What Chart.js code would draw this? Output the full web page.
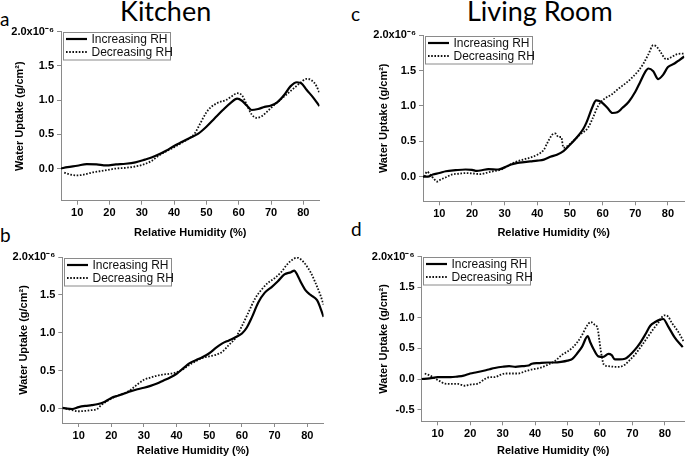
<!DOCTYPE html>
<html><head><meta charset="utf-8">
<script src="https://cdn.jsdelivr.net/npm/chart.js@4.4.1/dist/chart.umd.min.js"></script>
<style>
html,body{margin:0;padding:0;background:#fff;}
#wrap{position:relative;width:685px;height:458px;overflow:hidden;background:#fff;}
canvas{position:absolute;}
.t{position:absolute;font-family:Lato,'Open Sans',sans-serif;color:#000;white-space:nowrap;line-height:1;}
</style></head><body>
<div id="wrap">
  <div class="t" style="left:120px;top:-3px;font-size:27px">Kitchen</div>
  <div class="t" style="left:467px;top:-3px;font-size:27px">Living Room</div>
  <div class="t" style="left:0px;top:9px;font-size:19px">a</div>
  <div class="t" style="left:0px;top:225px;font-size:19px">b</div>
  <div class="t" style="left:351px;top:4px;font-size:19px">c</div>
  <div class="t" style="left:351px;top:219px;font-size:19px">d</div>
  <canvas id="ca"></canvas>
  <canvas id="cb"></canvas>
  <canvas id="cc"></canvas>
  <canvas id="cd"></canvas>
</div>
<script>
// ---------- DATA (water uptake in units of 1e-6 g/cm^2) ----------
const seriesLabels = ['Increasing RH', 'Decreasing RH'];
const xTickValues = [10, 20, 30, 40, 50, 60, 70, 80];
const yTickValuesABC = [0, 0.5, 1.0, 1.5, 2.0];
const yTickValuesD = [-0.5, 0, 0.5, 1.0, 1.5, 2.0];

// Panel a: Kitchen (top)
const aIncRH  = [5, 7, 10, 13, 16, 19, 22, 25, 28, 31, 33, 35, 37.5, 40, 42.5, 45, 47.5, 50, 52.5, 55, 57.5, 59.5, 61, 62.5, 64, 66, 68, 70, 72, 74, 76, 78, 79.5, 81, 83, 85];
const aIncVal = [0.0, 0.02, 0.04, 0.065, 0.06, 0.045, 0.06, 0.07, 0.09, 0.13, 0.16, 0.2, 0.26, 0.33, 0.39, 0.45, 0.51, 0.61, 0.73, 0.85, 0.96, 1.02, 0.99, 0.92, 0.855, 0.87, 0.9, 0.92, 0.97, 1.07, 1.2, 1.26, 1.24, 1.15, 1.04, 0.91];
const aDecRH  = [6, 8, 10, 12, 14.5, 17, 19.5, 22, 25, 28, 30, 33, 35, 37.5, 40, 42.5, 45, 46.5, 48, 50, 51.5, 53.5, 56, 58, 59.5, 61, 62.5, 64, 65.5, 67, 69, 71, 73, 75, 77, 79, 81, 82.5, 84, 85];
const aDecVal = [-0.06, -0.09, -0.1, -0.09, -0.06, -0.04, -0.02, 0.0, 0.01, 0.03, 0.05, 0.11, 0.18, 0.25, 0.31, 0.38, 0.45, 0.52, 0.65, 0.82, 0.9, 0.96, 1.0, 1.06, 1.1, 1.07, 0.93, 0.79, 0.74, 0.76, 0.84, 0.93, 1.01, 1.09, 1.17, 1.25, 1.31, 1.29, 1.21, 1.1];

// Panel b: Kitchen (bottom)
const bIncRH  = [5, 6.5, 8, 10, 12, 14, 16, 17.5, 20, 22, 24, 26, 28, 30, 32, 34, 36, 38, 40, 42, 44, 46, 48, 50, 52, 54, 56, 58, 60, 61.5, 63, 65, 67, 69, 71, 73, 75, 76, 77, 78, 79.5, 81, 83, 84, 85];
const bIncVal = [0.01, 0.0, -0.005, 0.02, 0.035, 0.045, 0.06, 0.08, 0.14, 0.17, 0.2, 0.23, 0.255, 0.275, 0.3, 0.33, 0.37, 0.41, 0.46, 0.53, 0.6, 0.64, 0.68, 0.73, 0.8, 0.86, 0.9, 0.94, 0.99, 1.07, 1.2, 1.4, 1.53, 1.6, 1.68, 1.77, 1.8, 1.82, 1.76, 1.67, 1.56, 1.5, 1.43, 1.33, 1.21];
const bDecRH  = [6, 8, 10, 12, 14, 15.5, 17, 20, 22, 24, 26, 28, 30, 32, 34, 36, 38, 40, 42, 44, 46, 48, 50, 52, 54, 56, 58, 60, 62, 64, 66, 68, 70, 72, 74, 76, 77, 78, 79.5, 81, 82.5, 84, 85];
const bDecVal = [0.0, -0.02, -0.035, -0.03, -0.02, -0.01, 0.05, 0.13, 0.17, 0.2, 0.25, 0.32, 0.38, 0.41, 0.435, 0.45, 0.46, 0.48, 0.52, 0.58, 0.63, 0.67, 0.69, 0.71, 0.75, 0.84, 0.93, 1.09, 1.27, 1.45, 1.57, 1.66, 1.72, 1.8, 1.91, 1.98, 1.99, 1.97, 1.9, 1.8, 1.66, 1.5, 1.37];

// Panel c: Living Room (top)
const cIncRH  = [5, 6.5, 8, 10, 12, 15, 18, 20, 21.5, 23, 25, 28, 30, 32, 34, 36, 38, 40, 42, 44, 46, 48, 50, 52, 54, 55, 56, 57, 58, 59, 60, 61.5, 63, 64.5, 66, 68, 70, 71.5, 73, 74, 75.5, 77, 78.5, 80, 82, 83.5, 85];
const cIncVal = [0.0, 0.0, 0.03, 0.05, 0.075, 0.09, 0.1, 0.095, 0.08, 0.09, 0.105, 0.1, 0.13, 0.17, 0.195, 0.205, 0.215, 0.225, 0.24, 0.28, 0.31, 0.36, 0.45, 0.55, 0.67, 0.76, 0.88, 1.0, 1.08, 1.07, 1.04, 0.97, 0.9, 0.91, 0.97, 1.06, 1.2, 1.34, 1.48, 1.53, 1.49, 1.38, 1.44, 1.55, 1.6, 1.65, 1.7];
const cDecRH  = [5.5, 6.2, 7.2, 8.5, 9.3, 10.5, 12, 14, 16, 18, 20, 22.5, 25, 27, 29, 30.5, 33, 36, 38, 40, 42, 43, 44.5, 45.5, 46.5, 47.3, 48, 50, 52, 53.5, 55.5, 57, 58.6, 60.5, 62.7, 65, 67.3, 69, 71, 72.5, 74, 75.5, 76.5, 77.5, 79.5, 81, 82.6, 84, 85];
const cDecVal = [0.0, 0.07, 0.03, -0.04, -0.07, -0.04, -0.01, 0.03, 0.04, 0.05, 0.045, 0.035, 0.06, 0.08, 0.1, 0.14, 0.2, 0.245, 0.27, 0.31, 0.38, 0.47, 0.59, 0.61, 0.56, 0.56, 0.41, 0.46, 0.55, 0.61, 0.69, 0.83, 1.0, 1.1, 1.16, 1.25, 1.33, 1.4, 1.5, 1.6, 1.73, 1.86, 1.84, 1.78, 1.66, 1.69, 1.73, 1.74, 1.74];

// Panel d: Living Room (bottom)
const dIncRH  = [5, 7.5, 10, 12, 14, 16, 18, 20, 22, 24.5, 26, 27.6, 30, 32, 34, 36, 38, 39, 41, 44, 46, 48, 50, 51.5, 53, 54.5, 56.2, 57, 58, 59.5, 61, 62.6, 63.6, 64.6, 66, 67.7, 69, 70.8, 72.5, 74, 75.5, 77, 78.5, 79.5, 81, 83, 85.5];
const dIncVal = [0.0, 0.01, 0.03, 0.03, 0.03, 0.04, 0.055, 0.09, 0.11, 0.14, 0.16, 0.18, 0.2, 0.21, 0.2, 0.21, 0.22, 0.25, 0.26, 0.27, 0.27, 0.28, 0.3, 0.33, 0.42, 0.53, 0.7, 0.6, 0.49, 0.37, 0.36, 0.41, 0.39, 0.32, 0.32, 0.33, 0.38, 0.48, 0.6, 0.73, 0.87, 0.93, 0.97, 0.98, 0.86, 0.68, 0.52];
const dDecRH  = [6, 7.5, 9, 10.5, 12.2, 14, 16.3, 18.3, 20, 22.4, 24.5, 26, 27.6, 29, 30.7, 33, 34.8, 36.9, 38.5, 40, 42, 44, 46, 48.4, 50, 51.5, 53, 54.6, 56, 57.2, 58.3, 59.2, 60.2, 61.2, 62.5, 64.6, 66, 67.7, 69, 70.8, 72.5, 74.9, 76.5, 78, 79.8, 81, 82.1, 84, 85.7];
const dDecVal = [0.09, 0.06, 0.015, -0.03, -0.075, -0.08, -0.08, -0.11, -0.09, -0.075, 0.0, 0.03, 0.03, 0.06, 0.09, 0.09, 0.09, 0.125, 0.15, 0.165, 0.19, 0.235, 0.29, 0.4, 0.45, 0.51, 0.6, 0.73, 0.87, 0.93, 0.89, 0.84, 0.48, 0.235, 0.21, 0.2, 0.2, 0.235, 0.3, 0.4, 0.52, 0.7, 0.82, 0.92, 1.04, 1.02, 0.92, 0.78, 0.62];

// ---------- RENDERING ----------
const AXIS_COLOR = '#8a8a8a';
const TICK_FONT = {family: '"Liberation Sans", Arial, sans-serif', size: 11, weight: 'bold'};

const boxLegend = {
  id: 'boxLegend',
  afterDraw(chart, args, opts) {
    const {ctx, chartArea: a} = chart;
    const x = Math.round(a.left + opts.dx) + 0.5, y = Math.round(a.top + opts.dy) + 0.5;
    const w = opts.w, h = opts.h;
    ctx.save();
    ctx.fillStyle = '#fff';
    ctx.fillRect(x, y, w, h);
    ctx.strokeStyle = AXIS_COLOR; ctx.lineWidth = 1; ctx.setLineDash([]);
    ctx.strokeRect(x, y, w, h);
    ctx.font = '12px "Liberation Sans", Arial, sans-serif';
    ctx.textBaseline = 'middle';
    chart.data.datasets.forEach((ds, i) => {
      const ly = y + 6.5 + i * 13;
      ctx.beginPath();
      ctx.setLineDash(ds.borderDash || []);
      ctx.lineWidth = ds.borderWidth;
      ctx.strokeStyle = ds.borderColor;
      ctx.moveTo(x + 2.5, ly); ctx.lineTo(x + 23.5, ly); ctx.stroke();
      ctx.setLineDash([]);
      ctx.fillStyle = '#111';
      ctx.fillText(ds.label, x + 28, ly + 0.5);
    });
    ctx.restore();
  }
};

function pts(xs, ys) { return xs.map((v, i) => ({x: v, y: ys[i]})); }

function makePanel(id, p) {
  const cv = document.getElementById(id);
  cv.width = p.w; cv.height = p.h;
  cv.style.left = p.left + 'px'; cv.style.top = p.top + 'px';
  cv.style.width = p.w + 'px'; cv.style.height = p.h + 'px';
  new Chart(cv, {
    type: 'line',
    data: {
      datasets: [
        {label: seriesLabels[0], data: pts(p.incRH, p.incVal), borderColor: '#000', borderWidth: 2.2, borderDash: [], cubicInterpolationMode: 'monotone'},
        {label: seriesLabels[1], data: pts(p.decRH, p.decVal), borderColor: '#111', borderWidth: 1.8, borderDash: [1.6, 1.6], cubicInterpolationMode: 'monotone'}
      ]
    },
    options: {
      responsive: false, animation: false, devicePixelRatio: 1,
      layout: {padding: {top: p.pt, right: p.pr, left: 0, bottom: 0}},
      elements: {point: {radius: 0, hoverRadius: 0}},
      plugins: {legend: {display: false}, tooltip: {enabled: false},
        boxLegend: {dx: 1.5, dy: 0.5, w: 107, h: 27.5}},
      scales: {
        x: {
          type: 'linear', min: 5, max: p.xmax,
          afterBuildTicks: s => { s.ticks = xTickValues.map(v => ({value: v})); },
          afterFit: s => { s.height = p.xh; },
          border: {display: true, color: AXIS_COLOR, width: 1},
          grid: {display: true, drawOnChartArea: false, drawTicks: true, tickLength: 4, color: AXIS_COLOR},
          ticks: {color: '#000', font: TICK_FONT, padding: 2, maxRotation: 0, autoSkip: false},
          title: {display: true, text: 'Relative Humidity (%)', color: '#000', font: TICK_FONT, padding: {top: 0, bottom: p.xtb}}
        },
        y: {
          type: 'linear', min: p.ymin, max: 2.0,
          afterBuildTicks: s => { s.ticks = p.yTicks.map(v => ({value: v})); },
          afterFit: s => { s.width = p.yw; },
          border: {display: true, color: AXIS_COLOR, width: 1},
          grid: {display: true, drawOnChartArea: false, drawTicks: true, tickLength: 4, color: AXIS_COLOR},
          ticks: {color: '#000', font: TICK_FONT, padding: 3, autoSkip: false,
            callback: v => (v === 2 ? '2.0x10\u207B\u2076' : v.toFixed(1))},
          title: {display: true, text: 'Water Uptake (g/cm\u00B2)', color: '#000', font: TICK_FONT, padding: {top: p.ytt, bottom: 0}}
        }
      }
    },
    plugins: [boxLegend]
  });
}

makePanel('ca', {left: 0, top: 20, w: 330, h: 225, pt: 11.6, pr: 10.5, yw: 61, xh: 44.3, xtb: 5.9, ytt: 13.4, xmax: 85, ymin: -0.47, yTicks: yTickValuesABC,
  incRH: aIncRH, incVal: aIncVal, decRH: aDecRH, decVal: aDecVal});
makePanel('cb', {left: 0, top: 245, w: 335, h: 213, pt: 12, pr: 11.4, yw: 62.3, xh: 35, xtb: 0.4, ytt: 17.4, xmax: 85, ymin: -0.19, yTicks: yTickValuesABC,
  incRH: bIncRH, incVal: bIncVal, decRH: bDecRH, decVal: bDecVal});
makePanel('cc', {left: 340, top: 20, w: 345, h: 225, pt: 15.3, pr: 0.7, yw: 83, xh: 43.7, xtb: 5.9, ytt: 37.4, xmax: 85, ymin: -0.35, yTicks: yTickValuesABC,
  incRH: cIncRH, incVal: cIncVal, decRH: cDecRH, decVal: cDecVal});
makePanel('cd', {left: 340, top: 245, w: 345, h: 213, pt: 11.5, pr: 0, yw: 81.5, xh: 36.7, xtb: 0.4, ytt: 36.9, xmax: 86.2, ymin: -0.69, yTicks: yTickValuesD,
  incRH: dIncRH, incVal: dIncVal, decRH: dDecRH, decVal: dDecVal});
</script>
</body></html>
